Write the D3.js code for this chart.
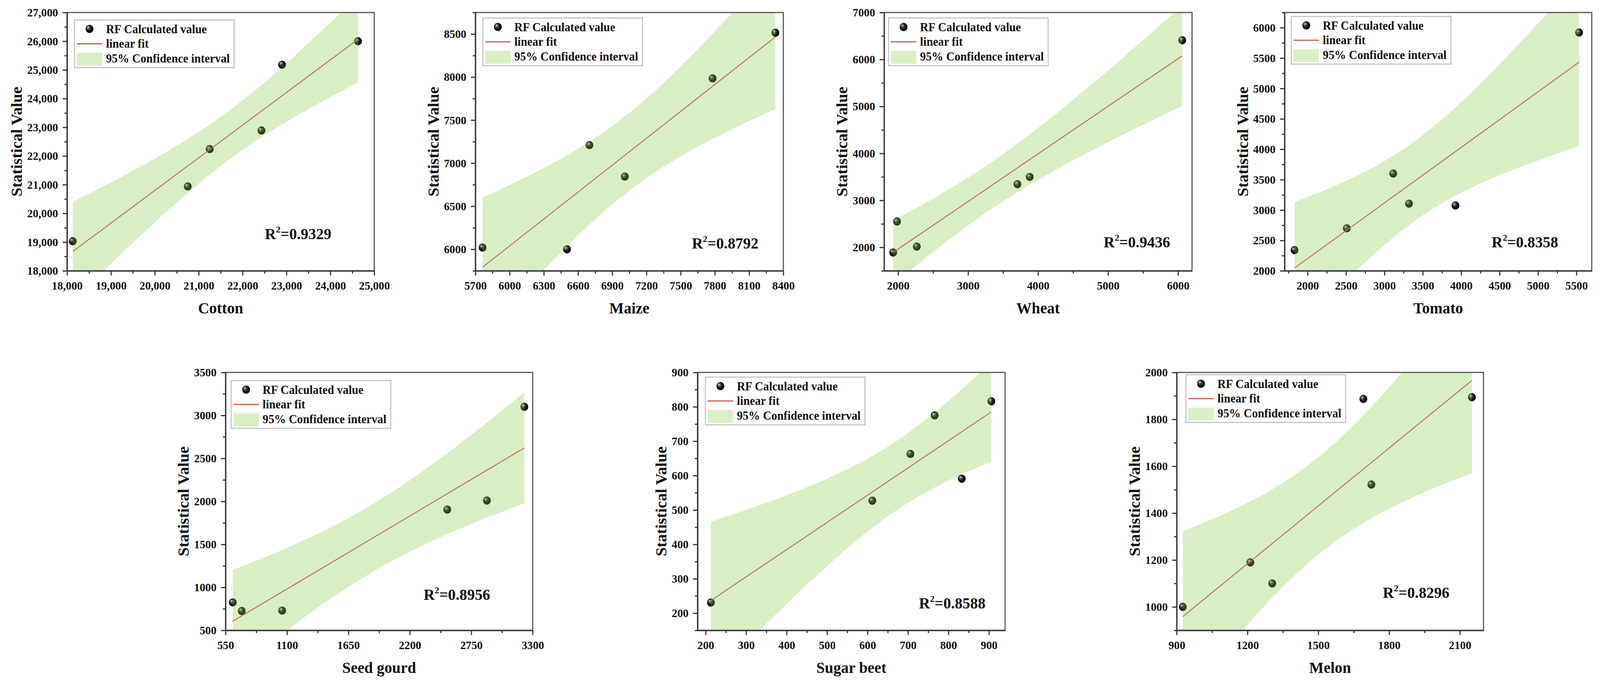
<!DOCTYPE html>
<html>
<head>
<meta charset="utf-8">
<script src="https://d3js.org/d3.v7.min.js"></script>
<style>
  html, body { margin: 0; padding: 0; background: #fff; overflow: hidden; }
  #chart { display: block; width: 100vw; height: 100vh; }
  svg text { font-family: 'Liberation Serif', 'Times New Roman', serif; font-weight: bold; fill: #111; }
</style>
</head>
<body>
<svg id="chart" viewBox="0 0 4271 1758" preserveAspectRatio="none"></svg>
<script>
'use strict';

var crops = ['Cotton', 'Maize', 'Wheat', 'Tomato', 'Seed gourd', 'Sugar beet', 'Melon'];

// RF calculated value (x axis)
var rfValues = [
  [18130, 20750, 21250, 22430, 22900, 24630],
  [5763, 6503, 6700, 7010, 7780, 8330],
  [1930, 1985, 2267, 3705, 3880, 6060],
  [1830, 2510, 3115, 3320, 3925, 5535],
  [615, 695, 1057, 2535, 2890, 3225],
  [213, 612, 706, 766, 833, 906],
  [926, 1212, 1305, 1691, 1725, 2151]
];

// statistical value (y axis)
var statValues = [
  [19030, 20940, 22240, 22890, 25180, 26000],
  [6020, 6000, 7210, 6845, 7985, 8515],
  [1890, 2550, 2015, 3345, 3500, 6410],
  [2340, 2700, 3600, 3105, 3075, 5920],
  [825, 725, 730, 1905, 2010, 3100],
  [231, 527, 663, 775, 591, 816],
  [1000, 1190, 1100, 1887, 1522, 1894]
];

var r2Labels = ['0.9329', '0.8792', '0.9436', '0.8358', '0.8956', '0.8588', '0.8296'];

var xDomains = [[18000, 25000], [5700, 8400], [1800, 6200], [1700, 5700], [550, 3300], [180, 940], [900, 2200]];
var yDomains = [[18000, 27000], [5750, 8750], [1500, 7000], [2000, 6250], [500, 3500], [150, 900], [900, 2000]];

// [first, last, step] of the labelled ticks
var xTicks = [[18000, 25000, 1000], [5700, 8400, 300], [2000, 6000, 1000], [2000, 5500, 500], [550, 3300, 550], [200, 900, 100], [900, 2100, 300]];
var yTicks = [[18000, 27000, 1000], [6000, 8500, 500], [2000, 7000, 1000], [2000, 6000, 500], [500, 3500, 500], [200, 900, 100], [1000, 2000, 200]];
var tickFormats = [',', 'd', 'd', 'd', 'd', 'd', 'd'];

var legendItems = ['RF Calculated value', 'linear fit', '95% Confidence interval'];
var yTitle = 'Statistical Value';

// t(0.975, df) for the confidence band
var tTable = {1: 12.706, 2: 4.303, 3: 3.182, 4: 2.776, 5: 2.571, 6: 2.447, 7: 2.365, 8: 2.306};

// panel frames in page pixels
var frames = [
  {x: 179, y: 32, w: 820, h: 661},
  {x: 1269, y: 32, w: 822, h: 661},
  {x: 2360, y: 32, w: 822, h: 661},
  {x: 3429, y: 32, w: 820, h: 661},
  {x: 602, y: 953, w: 820, h: 660},
  {x: 1862, y: 953, w: 821, h: 660},
  {x: 3141, y: 953, w: 819, h: 660}
];
var r2Pos = [[0.644, 0.877], [0.703, 0.914], [0.713, 0.909], [0.674, 0.909], [0.645, 0.882], [0.72, 0.915], [0.672, 0.874]];
var legendPos = [[20, 19], [20, 14], [12, 14], [18, 10], [15, 21], [21, 12], [25, 6]];

var bandColor = 'rgb(133,200,67)';
var bandOpacity = 0.3;
var lineColor = '#cc5a50';

var svg = d3.select('#chart');
var defs = svg.append('defs');

var grad = defs.append('radialGradient')
  .attr('id', 'ball')
  .attr('cx', '45%').attr('cy', '45%').attr('r', '60%')
  .attr('fx', '32%').attr('fy', '30%');
grad.append('stop').attr('offset', '0%').attr('stop-color', '#f2f2f2');
grad.append('stop').attr('offset', '22%').attr('stop-color', '#6a6a6a');
grad.append('stop').attr('offset', '55%').attr('stop-color', '#141414');
grad.append('stop').attr('offset', '100%').attr('stop-color', '#000');

function fit(xs, ys) {
  var n = xs.length;
  var mx = d3.mean(xs), my = d3.mean(ys);
  var sxx = d3.sum(xs, function (x) { return (x - mx) * (x - mx); });
  var sxy = d3.sum(xs, function (x, i) { return (x - mx) * (ys[i] - my); });
  var slope = sxy / sxx;
  var icpt = my - slope * mx;
  var sse = d3.sum(xs, function (x, i) {
    var r = ys[i] - (icpt + slope * x);
    return r * r;
  });
  var s = Math.sqrt(sse / (n - 2));
  var t = tTable[n - 2] || 1.96;
  return {
    y: function (x) { return icpt + slope * x; },
    half: function (x) { return t * s * Math.sqrt(1 / n + (x - mx) * (x - mx) / sxx); }
  };
}

function tickRange(t) {
  return d3.range(t[0], t[1] + t[2] / 2, t[2]);
}

function minorRange(t, dom) {
  var half = t[2] / 2;
  return d3.range(t[0] - half * 2, t[1] + t[2] * 2, half)
    .filter(function (v) {
      var k = (v - t[0]) / t[2];
      return v >= dom[0] - 1e-6 && v <= dom[1] + 1e-6 && Math.abs(k - Math.round(k)) > 1e-6;
    });
}

crops.forEach(function (crop, i) {
  var f = frames[i];
  var xs = rfValues[i], ys = statValues[i];
  var pts = xs.map(function (x, k) { return {x: x, y: ys[k]}; });

  var x = d3.scaleLinear().domain(xDomains[i]).range([0, f.w]);
  var y = d3.scaleLinear().domain(yDomains[i]).range([f.h, 0]);

  var g = svg.append('g')
    .attr('class', 'panel')
    .attr('transform', 'translate(' + f.x + ',' + f.y + ')');

  defs.append('clipPath').attr('id', 'clip' + i)
    .append('rect').attr('width', f.w).attr('height', f.h);

  // points
  g.append('g').selectAll('circle')
    .data(pts)
    .enter().append('circle')
    .attr('cx', function (d) { return x(d.x); })
    .attr('cy', function (d) { return y(d.y); })
    .attr('r', 10.5)
    .attr('fill', 'url(#ball)');

  var model = fit(xs, ys);
  var ext = d3.extent(xs);
  var samples = d3.range(0, 81).map(function (k) { return ext[0] + (ext[1] - ext[0]) * k / 80; });

  var plot = g.append('g').attr('clip-path', 'url(#clip' + i + ')');

  plot.append('path')
    .datum(ext)
    .attr('fill', 'none')
    .attr('stroke', lineColor)
    .attr('stroke-width', 2.5)
    .attr('d', d3.line()
      .x(function (d) { return x(d); })
      .y(function (d) { return y(model.y(d)); }));

  // band laid over points and line, like the original
  plot.append('path')
    .datum(samples)
    .attr('fill', bandColor)
    .attr('fill-opacity', bandOpacity)
    .attr('d', d3.area()
      .x(function (d) { return x(d); })
      .y0(function (d) { return y(model.y(d) - model.half(d)); })
      .y1(function (d) { return y(model.y(d) + model.half(d)); }));

  // frame
  g.append('rect')
    .attr('width', f.w).attr('height', f.h)
    .attr('fill', 'none')
    .attr('stroke', '#555')
    .attr('stroke-width', 3);

  var fmt = d3.format(tickFormats[i]);

  g.append('g')
    .attr('transform', 'translate(0,' + f.h + ')')
    .call(d3.axisBottom(x).tickValues(tickRange(xTicks[i])).tickFormat(fmt)
      .tickSize(12).tickSizeOuter(0).tickPadding(15));
  g.append('g')
    .attr('transform', 'translate(0,' + f.h + ')')
    .call(d3.axisBottom(x).tickValues(minorRange(xTicks[i], xDomains[i])).tickFormat('')
      .tickSize(7).tickSizeOuter(0))
    .select('.domain').remove();

  var yAxis = g.append('g')
    .call(d3.axisLeft(y).tickValues(tickRange(yTicks[i])).tickFormat(fmt)
      .tickSize(12).tickSizeOuter(0).tickPadding(12));
  g.append('g')
    .call(d3.axisLeft(y).tickValues(minorRange(yTicks[i], yDomains[i])).tickFormat('')
      .tickSize(7).tickSizeOuter(0))
    .select('.domain').remove();

  g.selectAll('.tick line').attr('stroke', '#333').attr('stroke-width', 3);
  g.selectAll('.domain').attr('stroke', '#3a3a3a').attr('stroke-width', 3.5);
  g.selectAll('.tick text')
    .attr('font-size', 30)
    .attr('font-family', null)
    .attr('fill', '#111');

  // axis titles
  var yb = yAxis.node().getBBox();
  g.append('text')
    .attr('transform', 'translate(' + (yb.x - 14) + ',' + (f.h / 2) + ') rotate(-90)')
    .attr('text-anchor', 'middle')
    .attr('font-size', 41)
    .text(yTitle);

  g.append('text')
    .attr('x', f.w / 2)
    .attr('y', f.h + 109)
    .attr('text-anchor', 'middle')
    .attr('font-size', 41)
    .text(crop);

  // R^2
  var r2 = g.append('text')
    .attr('x', f.w * r2Pos[i][0])
    .attr('y', f.h * r2Pos[i][1])
    .attr('font-size', 41);
  r2.append('tspan').text('R');
  r2.append('tspan').attr('font-size', 24).attr('dy', -17).text('2');
  r2.append('tspan').attr('dy', 17).text('=' + r2Labels[i]);

  // legend
  var lg = g.append('g')
    .attr('transform', 'translate(' + legendPos[i][0] + ',' + legendPos[i][1] + ')');
  lg.append('rect')
    .attr('width', 426).attr('height', 122)
    .attr('fill', '#fff')
    .attr('stroke', '#c4c4c4')
    .attr('stroke-width', 3);
  lg.append('circle')
    .attr('cx', 40).attr('cy', 23).attr('r', 10.5)
    .attr('fill', 'url(#ball)');
  lg.append('line')
    .attr('x1', 6).attr('x2', 74).attr('y1', 61).attr('y2', 61)
    .attr('stroke', lineColor).attr('stroke-width', 3);
  lg.append('rect')
    .attr('x', 6).attr('y', 84).attr('width', 68).attr('height', 33)
    .attr('fill', bandColor).attr('fill-opacity', bandOpacity);
  lg.selectAll('text.item')
    .data(legendItems)
    .enter().append('text')
    .attr('class', 'item')
    .attr('x', 84)
    .attr('y', function (d, k) { return 34 + k * 37.5; })
    .attr('font-size', 31)
    .text(function (d) { return d; });
});
</script>
</body>
</html>
